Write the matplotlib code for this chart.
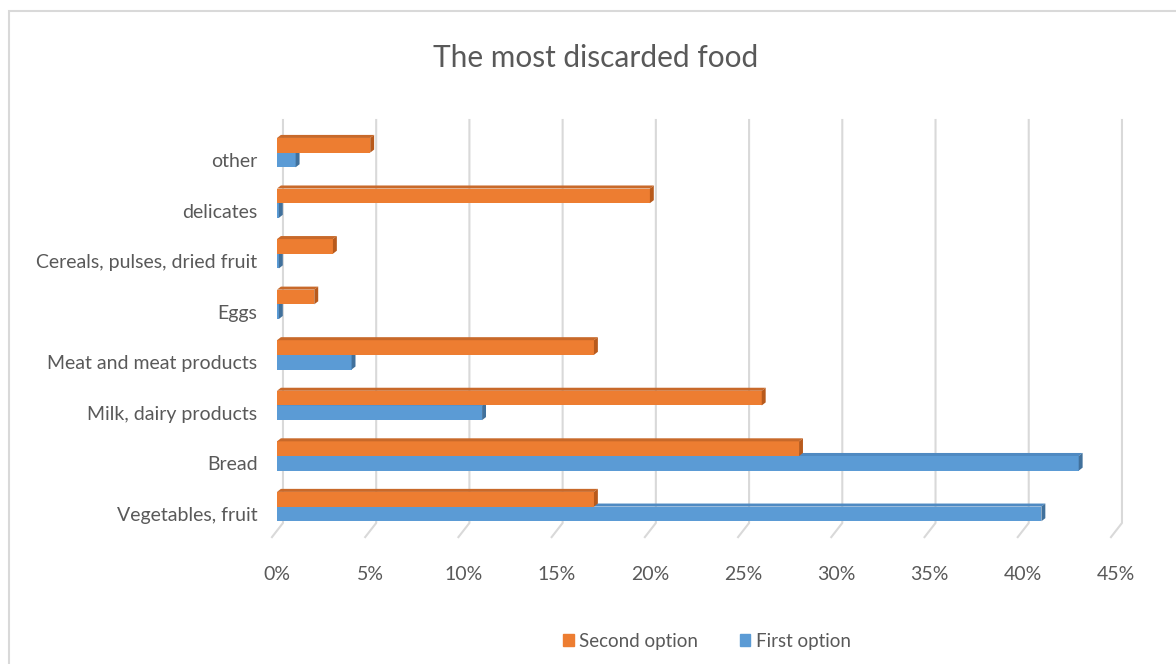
import matplotlib
matplotlib.use("Agg")
import matplotlib.pyplot as plt
from matplotlib.patches import Polygon, Rectangle

plt.rcParams['font.family'] = ['Lato', 'DejaVu Sans']

# ---------------- data ----------------
categories = ["Vegetables, fruit", "Bread", "Milk, dairy products",
              "Meat and meat products", "Eggs", "Cereals, pulses, dried fruit",
              "delicates", "other"]
first_option = [41, 43, 11, 4, 0.1, 0.1, 0.1, 1]
second_option = [17, 28, 26, 17, 2, 3, 20, 5]
x_ticks = [0, 5, 10, 15, 20, 25, 30, 35, 40, 45]

text_color = "#595959"
grid_color = "#d9d9d9"
blue, blue_top, blue_dark = "#5b9bd5", "#4f8ac2", "#41719c"
orange, orange_top, orange_dark = "#ed7d31", "#c8692a", "#b85a1c"

fig = plt.figure(figsize=(11.76, 6.64), dpi=100)

# light frame round the chart area (runs off the right and bottom edge)
fig.patches.append(Rectangle((9 / 1176, -0.05), 1.2, 1 - 11 / 664 + 0.05,
                             transform=fig.transFigure, fill=False,
                             edgecolor="#d9d9d9", linewidth=1.5))

ax = fig.add_axes([277 / 1176, (664 - 523) / 664, 839 / 1176, 403 / 664])
ax.set_xlim(0, 45)
ax.set_ylim(-0.18, 7.79)

# perspective offsets for the fake 3d look
dx, dy = 0.21, 0.06
bar_h = 0.29


def bar3d(y, v, color, top_color, dark, z):
    # front face
    ax.barh(y, v, height=bar_h, color=color, edgecolor="none", zorder=z)
    top = y + bar_h / 2
    bot = y - bar_h / 2
    # top face
    ax.add_patch(Polygon([(0, top), (dx, top + dy), (v + dx, top + dy), (v, top)],
                         closed=True, facecolor=top_color, edgecolor="none", zorder=z))
    # right end cap
    ax.add_patch(Polygon([(v, bot), (v, top), (v + dx, top + dy), (v + dx, bot + dy)],
                         closed=True, facecolor=dark, edgecolor="none", zorder=z))


for i in range(len(categories)):
    bar3d(i, first_option[i], blue, blue_top, blue_dark, 3)
    bar3d(i + bar_h, second_option[i], orange, orange_top, orange_dark, 4)

# gridlines standing on a slanted floor
for t in x_ticks:
    ax.plot([t + 0.32, t + 0.32, t - 0.27], [1.0, 0.0, -0.035],
            transform=ax.get_xaxis_transform(), color=grid_color,
            linewidth=1.5, clip_on=False, zorder=1)

ax.set_xticks(x_ticks)
ax.set_xticklabels([f"{t}%" for t in x_ticks])
ax.set_yticks(range(len(categories)))
ax.set_yticklabels(categories)
ax.tick_params(axis="x", length=0, pad=31, labelsize=14, labelcolor=text_color)
ax.tick_params(axis="y", length=0, pad=14, labelsize=14, labelcolor=text_color)
for s in ax.spines.values():
    s.set_visible(False)

fig.text(596 / 1176, 1 - 58 / 664, "The most discarded food", ha="center",
         va="center", fontsize=21.5, color=text_color)

handles = [Rectangle((0, 0), 1, 1, color=orange), Rectangle((0, 0), 1, 1, color=blue)]
fig.legend(handles, ["Second option", "First option"], loc="center",
           bbox_to_anchor=(707 / 1176, 23 / 664), ncol=2, frameon=False,
           fontsize=13.5, labelcolor=text_color, handlelength=0.55,
           handleheight=0.55, handletextpad=0.3, columnspacing=2.2)

fig.savefig("out.png", dpi=100)
